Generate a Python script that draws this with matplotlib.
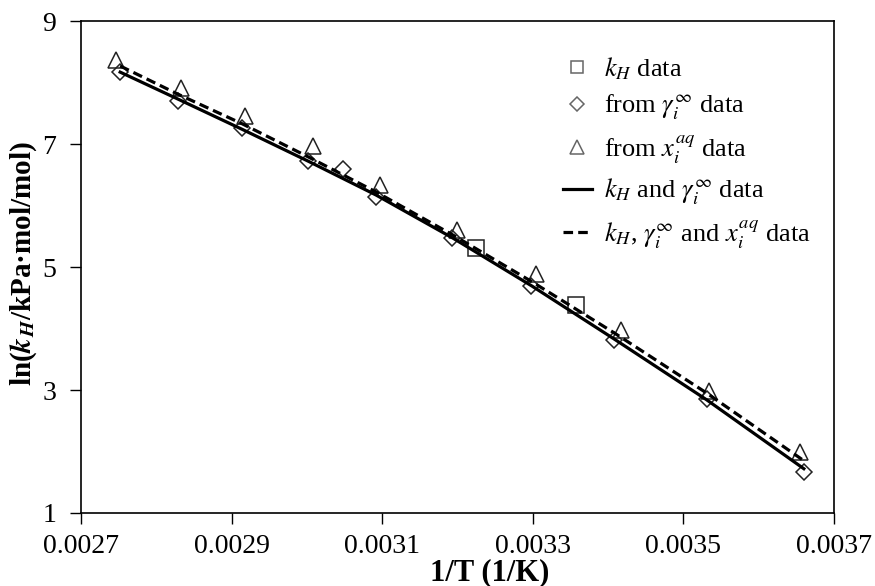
import matplotlib
matplotlib.use("Agg")
import matplotlib.pyplot as plt
from matplotlib.ticker import FixedLocator, FormatStrFormatter

plt.rcParams['font.family'] = ['Liberation Serif', 'DejaVu Serif']
plt.rcParams['mathtext.fontset'] = 'stix'

# Henry's constant measurements
kh_x = [0.003225, 0.003357]
kh_y = [5.31, 4.38]

# derived from infinite-dilution activity coefficients
gam_x = [0.002752, 0.002829, 0.002914, 0.003001, 0.003048, 0.003092,
         0.003193, 0.003298, 0.003408, 0.003531, 0.003660]
gam_y = [8.17, 7.70, 7.26, 6.72, 6.60, 6.14, 5.47, 4.69, 3.81, 2.85, 1.67]

# derived from aqueous solubility
xaq_x = [0.002746, 0.002833, 0.002918, 0.003008, 0.003097, 0.003199,
         0.003304, 0.003417, 0.003534, 0.003655]
xaq_y = [8.36, 7.91, 7.45, 6.97, 6.33, 5.60, 4.89, 3.98, 2.98, 1.99]

# regression curves
fit_x = [0.002752, 0.002829, 0.002914, 0.003002, 0.003092, 0.003194,
         0.003299, 0.003408, 0.003531, 0.003660]
fit1_y = [8.17, 7.73, 7.24, 6.72, 6.17, 5.47, 4.69, 3.83, 2.84, 1.72]
fit2_y = [8.27, 7.81, 7.33, 6.79, 6.22, 5.52, 4.76, 3.93, 2.95, 1.85]

xticks = [0.0027, 0.0029, 0.0031, 0.0033, 0.0035, 0.0037]
yticks = [1, 3, 5, 7, 9]

fig = plt.figure(figsize=(8.75, 5.86), dpi=100)
ax = fig.add_axes([0.0926, 0.1246, 0.8605, 0.8394])

mk = dict(linestyle='none', markerfacecolor='none', markeredgecolor='#222222',
          markeredgewidth=1.1)
ax.plot(kh_x, kh_y, marker='s', markersize=11, label=r'$k_H$ data', **mk)
ax.plot(gam_x, gam_y, marker='D', markersize=8,
        label=r'from $\gamma_i^{\infty}$ data', **mk)
ax.plot(xaq_x, xaq_y, marker='^', markersize=12,
        label=r'from $x_i^{aq}$ data', **mk)
ax.plot(fit_x, fit1_y, color='black', linewidth=2.3,
        label=r'$k_H$ and $\gamma_i^{\infty}$ data')
ax.plot(fit_x, fit2_y, color='black', linewidth=2.3, linestyle=(0, (3, 1.6)),
        label=r'$k_H$, $\gamma_i^{\infty}$ and $x_i^{aq}$ data')

ax.set_xlim(0.0027, 0.0037)
ax.set_ylim(1, 9)
ax.xaxis.set_major_locator(FixedLocator(xticks))
ax.yaxis.set_major_locator(FixedLocator(yticks))
ax.xaxis.set_major_formatter(FormatStrFormatter('%.4f'))
ax.tick_params(direction='out', length=8, width=1, labelsize=20)
ax.tick_params(axis='x', pad=7)
ax.tick_params(axis='y', pad=10)
for s in ax.spines.values():
    s.set_linewidth(1.2)

fig.text(490 / 875, 1 - 573 / 586, '1/T (1/K)', fontsize=22,
         fontweight='bold', ha='center', va='center')
fig.text(24 / 875, 1 - 264 / 586,
         r'ln($\mathbfit{k}_{\mathbfit{H}}$/kPa·mol/mol)', fontsize=21,
         fontweight='bold', ha='center', va='center', rotation=90)

leg = ax.legend(loc='upper left', bbox_to_anchor=(0.626, 0.952), frameon=False,
                fontsize=19, handlelength=1.1, handletextpad=0.45,
                labelspacing=0.42, borderaxespad=0, markerscale=0.85)
for h in leg.legend_handles:
    if h.get_marker() not in (None, 'None', 'none'):
        h.set_markeredgecolor('#666666')

fig.savefig('out.png', dpi=100)
